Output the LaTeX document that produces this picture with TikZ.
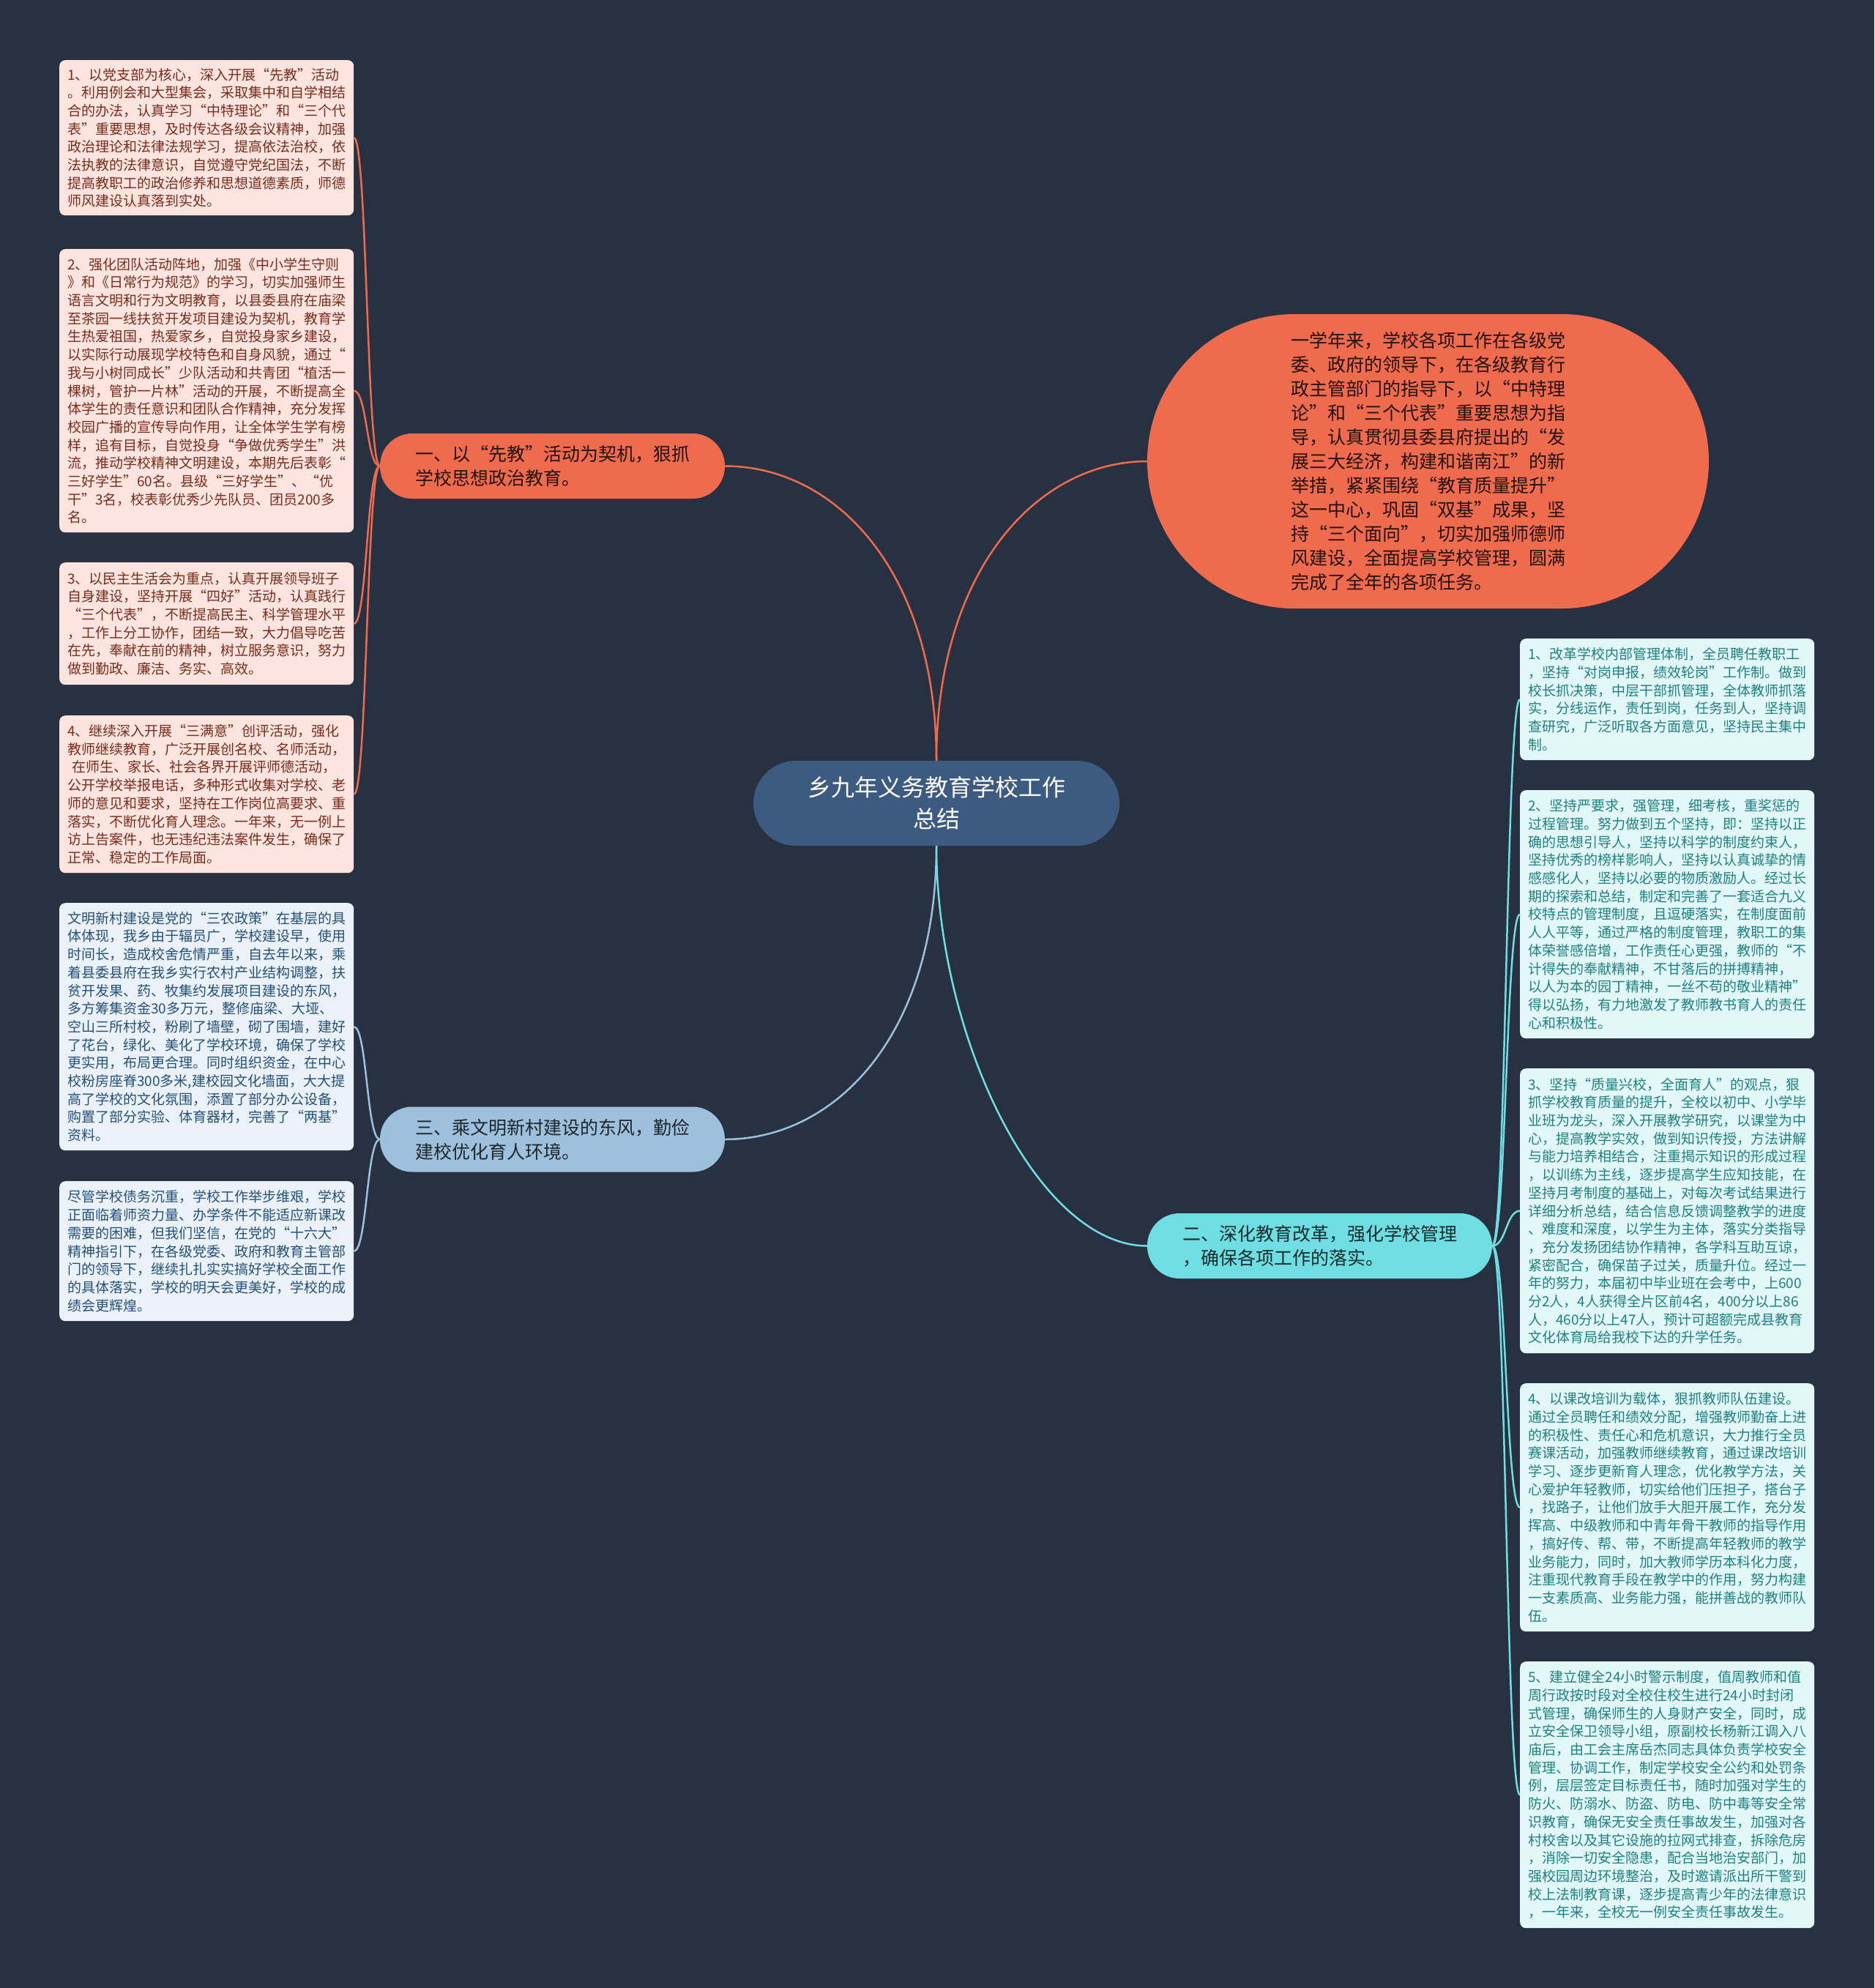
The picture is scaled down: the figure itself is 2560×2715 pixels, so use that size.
\documentclass[tikz,border=0pt]{standalone}
\usepackage{fontspec}
\setmainfont{Noto Sans CJK SC}
\definecolor{bgc}{HTML}{283142}
\definecolor{orangec}{HTML}{EF6B4D}
\definecolor{centerc}{HTML}{3D5A80}
\definecolor{bluec}{HTML}{9DC0DC}
\definecolor{cyanc}{HTML}{6EDEE3}
\definecolor{pinkfill}{HTML}{FDE4DE}
\definecolor{pinktext}{HTML}{7A2C1C}
\definecolor{greyfill}{HTML}{EAF1F8}
\definecolor{greytext}{HTML}{24507A}
\definecolor{cyanfill}{HTML}{E2F8F8}
\definecolor{cyantext}{HTML}{1E8082}
\tikzset{
  leafbox/.style={rectangle, rounded corners=8pt, inner sep=0pt, minimum width=402pt, anchor=north west, align=left, font={\fontsize{19}{24.7}\selectfont}},
  pinkleaf/.style={leafbox, fill=pinkfill, text=pinktext},
  greyleaf/.style={leafbox, fill=greyfill, text=greytext},
  cyanleaf/.style={leafbox, fill=cyanfill, text=cyantext},
  branchbox/.style={rectangle, rounded corners=44pt, inner sep=0pt, minimum width=471pt, minimum height=89pt, align=left, font={\fontsize{25}{33}\selectfont}},
  conn/.style={line width=2.5pt},
}
\begin{document}
\begin{tikzpicture}[x=1pt,y=-1pt]
\useasboundingbox (0,0) rectangle (2560,2715);
\fill[bgc] (0,0) rectangle (2560,2715);

% center
\node[rectangle, rounded corners=58pt, fill=centerc, text=white, minimum width=500pt, minimum height=116pt, inner sep=0pt, align=center, font={\fontsize{32}{43}\selectfont}] (c) at (1279,1097) {乡九年义务教育学校工作\\总结};

% top right summary
\node[rectangle, rounded corners=201pt, fill=orangec, text=black!85!orangec, minimum width=767pt, minimum height=402pt, inner sep=0pt, align=left, font={\fontsize{25}{33}\selectfont}] (e) at (1950.5,630) {一学年来，学校各项工作在各级党\\委、政府的领导下，在各级教育行\\政主管部门的指导下，以“中特理\\论”和“三个代表”重要思想为指\\导，认真贯彻县委县府提出的“发\\展三大经济，构建和谐南江”的新\\举措，紧紧围绕“教育质量提升”\\这一中心，巩固“双基”成果，坚\\持“三个面向”，切实加强师德师\\风建设，全面提高学校管理，圆满\\完成了全年的各项任务。};

% branches
\node[branchbox, fill=orangec, text=black!85!orangec] (b1) at (754.5,636.5) {一、以“先教”活动为契机，狠抓\\学校思想政治教育。};
\node[branchbox, fill=bluec, text=black!80!bluec] (b3) at (754.5,1556) {三、乘文明新村建设的东风，勤俭\\建校优化育人环境。};
\node[branchbox, fill=cyanc, text=black!80!cyanc] (b2) at (1802.5,1701.5) {二、深化教育改革，强化学校管理\\，确保各项工作的落实。};

% left leaves (branch 1)
\node[pinkleaf, minimum height=212pt] (l1) at (81,82) {1、以党支部为核心，深入开展“先教”活动\\。利用例会和大型集会，采取集中和自学相结\\合的办法，认真学习“中特理论”和“三个代\\表”重要思想，及时传达各级会议精神，加强\\政治理论和法律法规学习，提高依法治校，依\\法执教的法律意识，自觉遵守党纪国法，不断\\提高教职工的政治修养和思想道德素质，师德\\师风建设认真落到实处。};
\node[pinkleaf, minimum height=387pt] (l2) at (81,340) {2、强化团队活动阵地，加强《中小学生守则\\》和《日常行为规范》的学习，切实加强师生\\语言文明和行为文明教育，以县委县府在庙梁\\至茶园一线扶贫开发项目建设为契机，教育学\\生热爱祖国，热爱家乡，自觉投身家乡建设，\\以实际行动展现学校特色和自身风貌，通过“\\我与小树同成长”少队活动和共青团“植活一\\棵树，管护一片林”活动的开展，不断提高全\\体学生的责任意识和团队合作精神，充分发挥\\校园广播的宣传导向作用，让全体学生学有榜\\样，追有目标，自觉投身“争做优秀学生”洪\\流，推动学校精神文明建设，本期先后表彰“\\三好学生”60名。县级“三好学生”、“优\\干”3名，校表彰优秀少先队员、团员200多\\名。};
\node[pinkleaf, minimum height=167pt] (l3) at (81,768) {3、以民主生活会为重点，认真开展领导班子\\自身建设，坚持开展“四好”活动，认真践行\\“三个代表”，不断提高民主、科学管理水平\\，工作上分工协作，团结一致，大力倡导吃苦\\在先，奉献在前的精神，树立服务意识，努力\\做到勤政、廉洁、务实、高效。};
\node[pinkleaf, minimum height=215pt] (l4) at (81,977) {4、继续深入开展“三满意”创评活动，强化\\教师继续教育，广泛开展创名校、名师活动，\\\hspace{6pt}在师生、家长、社会各界开展评师德活动，\\公开学校举报电话，多种形式收集对学校、老\\师的意见和要求，坚持在工作岗位高要求、重\\落实，不断优化育人理念。一年来，无一例上\\访上告案件，也无违纪违法案件发生，确保了\\正常、稳定的工作局面。};

% left leaves (branch 3)
\node[greyleaf, minimum height=338pt] (l5) at (81,1233) {文明新村建设是党的“三农政策”在基层的具\\体体现，我乡由于辐员广，学校建设早，使用\\时间长，造成校舍危情严重，自去年以来，乘\\着县委县府在我乡实行农村产业结构调整，扶\\贫开发果、药、牧集约发展项目建设的东风，\\多方筹集资金30多万元，整修庙梁、大垭、\\空山三所村校，粉刷了墙壁，砌了围墙，建好\\了花台，绿化、美化了学校环境，确保了学校\\更实用，布局更合理。同时组织资金，在中心\\校粉房座脊300多米,建校园文化墙面，大大提\\高了学校的文化氛围，添置了部分办公设备，\\购置了部分实验、体育器材，完善了“两基”\\资料。};
\node[greyleaf, minimum height=191pt] (l6) at (81,1613) {尽管学校债务沉重，学校工作举步维艰，学校\\正面临着师资力量、办学条件不能适应新课改\\需要的困难，但我们坚信，在党的“十六大”\\精神指引下，在各级党委、政府和教育主管部\\门的领导下，继续扎扎实实搞好学校全面工作\\的具体落实，学校的明天会更美好，学校的成\\绩会更辉煌。};

% right leaves (branch 2)
\node[cyanleaf, minimum height=166pt] (r1) at (2076,872) {1、改革学校内部管理体制，全员聘任教职工\\，坚持“对岗申报，绩效轮岗”工作制。做到\\校长抓决策，中层干部抓管理，全体教师抓落\\实，分线运作，责任到岗，任务到人，坚持调\\查研究，广泛听取各方面意见，坚持民主集中\\制。};
\node[cyanleaf, minimum height=339pt] (r2) at (2076,1079) {2、坚持严要求，强管理，细考核，重奖惩的\\过程管理。努力做到五个坚持，即：坚持以正\\确的思想引导人，坚持以科学的制度约束人，\\坚持优秀的榜样影响人，坚持以认真诚挚的情\\感感化人，坚持以必要的物质激励人。经过长\\期的探索和总结，制定和完善了一套适合九义\\校特点的管理制度，且逗硬落实，在制度面前\\人人平等，通过严格的制度管理，教职工的集\\体荣誉感倍增，工作责任心更强，教师的“不\\计得失的奉献精神，不甘落后的拼搏精神，\\以人为本的园丁精神，一丝不苟的敬业精神”\\得以弘扬，有力地激发了教师教书育人的责任\\心和积极性。};
\node[cyanleaf, minimum height=389pt] (r3) at (2076,1459) {3、坚持“质量兴校，全面育人”的观点，狠\\抓学校教育质量的提升，全校以初中、小学毕\\业班为龙头，深入开展教学研究，以课堂为中\\心，提高教学实效，做到知识传授，方法讲解\\与能力培养相结合，注重揭示知识的形成过程\\，以训练为主线，逐步提高学生应知技能，在\\坚持月考制度的基础上，对每次考试结果进行\\详细分析总结，结合信息反馈调整教学的进度\\、难度和深度，以学生为主体，落实分类指导\\，充分发扬团结协作精神，各学科互助互谅，\\紧密配合，确保苗子过关，质量升位。经过一\\年的努力，本届初中毕业班在会考中，上600\\分2人，4人获得全片区前4名，400分以上86\\人，460分以上47人，预计可超额完成县教育\\文化体育局给我校下达的升学任务。};
\node[cyanleaf, minimum height=339pt] (r4) at (2076,1889) {4、以课改培训为载体，狠抓教师队伍建设。\\通过全员聘任和绩效分配，增强教师勤奋上进\\的积极性、责任心和危机意识，大力推行全员\\赛课活动，加强教师继续教育，通过课改培训\\学习、逐步更新育人理念，优化教学方法，关\\心爱护年轻教师，切实给他们压担子，搭台子\\，找路子，让他们放手大胆开展工作，充分发\\挥高、中级教师和中青年骨干教师的指导作用\\，搞好传、帮、带，不断提高年轻教师的教学\\业务能力，同时，加大教师学历本科化力度，\\注重现代教育手段在教学中的作用，努力构建\\一支素质高、业务能力强，能拼善战的教师队\\伍。};
\node[cyanleaf, minimum height=364pt] (r5) at (2076,2269) {5、建立健全24小时警示制度，值周教师和值\\周行政按时段对全校住校生进行24小时封闭\\式管理，确保师生的人身财产安全，同时，成\\立安全保卫领导小组，原副校长杨新江调入八\\庙后，由工会主席岳杰同志具体负责学校安全\\管理、协调工作，制定学校安全公约和处罚条\\例，层层签定目标责任书，随时加强对学生的\\防火、防溺水、防盗、防电、防中毒等安全常\\识教育，确保无安全责任事故发生，加强对各\\村校舍以及其它设施的拉网式排查，拆除危房\\，消除一切安全隐患，配合当地治安部门，加\\强校园周边环境整治，及时邀请派出所干警到\\校上法制教育课，逐步提高青少年的法律意识\\，一年来，全校无一例安全责任事故发生。};

% center connectors
\draw[conn, orangec] (c.north) .. controls +(0,-260) and +(-150,0) .. (e.west);
\draw[conn, orangec] (c.north) .. controls +(0,-260) and +(150,0) .. (b1.east);
\draw[conn, bluec] (c.south) .. controls +(0,260) and +(150,0) .. (b3.east);
\draw[conn, cyanc] (c.south) .. controls +(0,260) and +(-150,0) .. (b2.west);

% leaf connectors
\foreach \l in {l1,l2,l3,l4}
  \draw[conn, orangec] (b1.west) .. controls +(-18,0) and +(18,0) .. (\l.east);
\foreach \l in {l5,l6}
  \draw[conn, bluec] (b3.west) .. controls +(-18,0) and +(18,0) .. (\l.east);
\foreach \r in {r1,r2,r3,r4,r5}
  \draw[conn, cyanc] (b2.east) .. controls +(19,0) and +(-19,0) .. (\r.west);
\end{tikzpicture}
\end{document}
